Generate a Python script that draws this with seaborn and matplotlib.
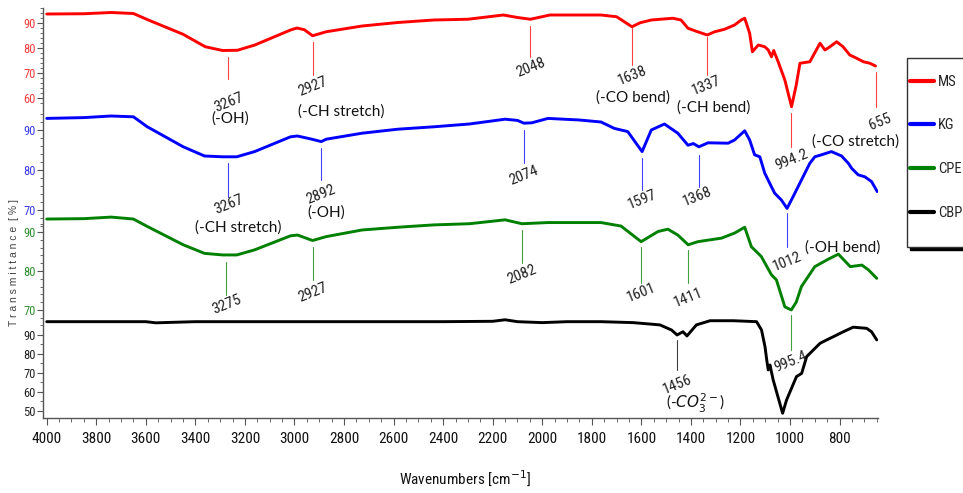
import numpy as np
import pandas as pd
import matplotlib
matplotlib.use("Agg")
import matplotlib.pyplot as plt
import matplotlib.transforms as mtransforms
import matplotlib.font_manager as fm
from matplotlib.patches import Rectangle
from matplotlib.ticker import MultipleLocator, FixedLocator
import seaborn as sns

# ---------------- data (wavenumber cm-1, transmittance %) ----------------
MS_WN = [4000, 3850, 3740, 3650, 3590, 3450, 3360, 3290, 3230, 3160, 3016, 2990, 2960, 2927, 2872,
         2727, 2583, 2438, 2300, 2157, 2100, 2048, 1969, 1850, 1763, 1700, 1638, 1605, 1560, 1473,
         1440, 1412, 1373, 1334, 1304, 1264, 1224, 1197, 1183, 1163, 1152, 1128, 1102, 1088, 1075,
         1066, 1048, 1021, 994, 975, 960, 920, 879, 859, 839, 812, 786, 759, 731, 704, 678, 655]
MS_T = [93.6, 93.7, 94.2, 93.8, 91.2, 85.5, 80.5, 79.0, 79.1, 81.2, 87.2, 88.0, 87.3, 84.9, 86.5,
        88.8, 90.2, 91.2, 91.5, 93.2, 92.2, 91.5, 93.2, 93.2, 93.2, 92.5, 88.5, 90.1, 91.2, 91.9,
        91.2, 87.9, 86.5, 85.2, 86.5, 87.5, 89.2, 91.2, 91.9, 85.9, 78.5, 81.2, 80.5, 79.2, 76.5,
        79.0, 74.5, 67.2, 56.5, 65.2, 73.9, 74.5, 81.9, 79.2, 80.5, 82.5, 80.5, 77.2, 75.9, 74.5, 73.9, 72.8]

KG_WN = [4000, 3850, 3740, 3650, 3594, 3449, 3363, 3290, 3233, 3161, 3016, 2988, 2930, 2892, 2872,
         2727, 2583, 2438, 2294, 2150, 2100, 2074, 2042, 1977, 1850, 1763, 1709, 1655, 1597, 1560,
         1507, 1453, 1412, 1390, 1368, 1331, 1250, 1224, 1183, 1163, 1143, 1122, 1102, 1075, 1062,
         1035, 1012, 988, 954, 920, 900, 873, 833, 792, 765, 751, 725, 698, 671, 648]
KG_T = [92.9, 93.1, 93.5, 93.3, 90.8, 85.8, 83.5, 83.3, 83.3, 84.6, 88.3, 88.5, 87.7, 87.1, 87.7,
        89.2, 90.2, 90.8, 91.5, 92.7, 92.4, 91.7, 91.8, 92.9, 92.5, 92.0, 90.4, 89.6, 84.6, 90.0,
        91.5, 89.2, 86.2, 86.6, 85.8, 86.8, 86.7, 87.5, 89.8, 87.5, 83.8, 83.3, 79.2, 75.8, 74.2,
        72.5, 70.4, 73.3, 77.5, 81.7, 83.3, 83.8, 84.6, 83.5, 81.7, 80.4, 78.8, 78.3, 77.1, 74.6]

CPE_WN = [4000, 3850, 3740, 3650, 3594, 3449, 3363, 3290, 3233, 3161, 3016, 2988, 2927, 2872, 2727,
          2583, 2438, 2294, 2150, 2082, 1977, 1850, 1763, 1682, 1601, 1533, 1493, 1453, 1411, 1372,
          1277, 1224, 1183, 1156, 1116, 1075, 1055, 1021, 995, 975, 954, 900, 846, 805, 757, 710, 684, 650]
CPE_T = [93.3, 93.4, 93.8, 93.3, 91.4, 86.7, 84.5, 84.1, 84.1, 85.4, 89.0, 89.2, 87.8, 88.8, 90.5,
         91.2, 91.8, 92.1, 93.1, 92.1, 92.4, 92.4, 92.4, 91.5, 87.5, 90.1, 90.7, 89.2, 86.7, 87.5,
         88.4, 89.7, 91.2, 86.2, 83.7, 79.0, 77.7, 70.8, 70.0, 72.0, 76.0, 81.1, 83.0, 84.3, 81.1, 81.5, 80.3, 78.1]

CBP_WN = [4000, 3800, 3600, 3560, 3400, 3200, 3000, 2800, 2600, 2400, 2200, 2150, 2100, 2000, 1900,
          1763, 1633, 1525, 1478, 1456, 1432, 1416, 1378, 1323, 1229, 1135, 1115, 1101, 1094, 1088,
          1081, 1068, 1030, 1014, 974, 953, 933, 906, 879, 852, 825, 785, 745, 691, 671, 650]
CBP_T = [97.0, 97.0, 97.0, 96.4, 97.0, 97.0, 97.0, 97.0, 97.0, 97.0, 97.2, 98.0, 97.0, 96.5, 97.0,
         97.0, 96.5, 95.3, 92.6, 90.0, 91.7, 89.5, 95.3, 97.5, 97.5, 97.0, 92.6, 83.8, 76.8, 71.6,
         74.2, 66.3, 48.8, 55.8, 68.1, 69.8, 78.6, 82.1, 85.6, 87.4, 89.1, 91.7, 94.1, 93.5, 91.7, 87.4]

SAMPLES = ["MS", "KG", "CPE", "CBP"]
X_TICKS = [4000, 3800, 3600, 3400, 3200, 3000, 2800, 2600, 2400, 2200, 2000, 1800, 1600, 1400, 1200, 1000, 800]

MS_PEAKS = ["3267", "2927", "2048", "1638", "1337", "994.2", "655"]
KG_PEAKS = ["3267", "2892", "2074", "1597", "1368", "1012"]
CPE_PEAKS = ["3275", "2927", "2082", "1601", "1411", "995.4"]
CBP_PEAKS = ["1456"]

ASSIGN_TEXT = ["(-OH)", "(-CH stretch)", "(-CO bend)", "(-CH bend)", "(-CO stretch)",
               "(-CH stretch)", "(-OH)", "(-OH bend)", r"(-$CO_3^{2-}$)"]

# ---------------- layout (pixels in the 963x493 picture) ----------------
W, H = 963, 493
AX_L, AX_R, AX_T, AX_B = 43, 878, 8, 418
XLIM = (4015, 645)

MS_LINE_PX = [(57, 79), (42, 75), (26, 57), (28, 65), (37, 75), (113, 147), (72, 107)]
MS_LABEL_PY = [103, 87, 68, 76, 86, 160, 122]
MS_LABEL_DX = [0, 0, 0, 0, 0, 0, -5]
KG_LINE_PX = [(163, 197), (148, 180), (130, 163), (158, 190), (155, 187), (213, 247)]
KG_LABEL_PY = [205, 195, 176, 200, 197, 262]
KG_LABEL_DX = [0, 0, 0, 0, 2, 0]
CPE_LINE_PX = [(262, 295), (247, 280), (230, 263), (247, 283), (250, 283), (315, 350)]
CPE_LABEL_PY = [305, 293, 275, 293, 298, 362]
CPE_LABEL_DX = [0, 0, 0, 0, 0, 0]
CBP_LINE_PX = [(340, 370)]
CBP_LABEL_PY = [385]
CBP_LABEL_DX = [0]
ASSIGN_POS = [(230, 119), (341, 112), (633, 98), (714, 108), (856, 142),
              (238, 228), (326, 213), (843, 248), (696, 403)]

sns.set_theme(style="ticks")

# ---- pick a condensed font if one is installed ----
_fonts = fm.fontManager.ttflist
_names = {f.name for f in _fonts}
_dv_cond = any(f.name == 'DejaVu Sans' and 'condensed' in str(f.stretch) for f in _fonts)
if 'Liberation Sans Narrow' in _names:
    NARROW, STRETCH, NS = ['Liberation Sans Narrow', 'DejaVu Sans'], 'normal', 1.0
elif 'Roboto Condensed' in _names:
    NARROW, STRETCH, NS = ['Roboto Condensed', 'DejaVu Sans'], 'normal', 1.0
elif _dv_cond:
    NARROW, STRETCH, NS = ['DejaVu Sans', 'Liberation Sans'], 'condensed', 0.9
else:
    NARROW, STRETCH, NS = ['Liberation Sans', 'DejaVu Sans'], 'normal', 0.88
BODY = ['DejaVu Sans']
for cand in ['Lato', 'Open Sans', 'Noto Sans', 'DejaVu Sans']:
    if cand in _names:
        BODY = [cand, 'DejaVu Sans']
        break

plt.rcParams['font.family'] = NARROW
plt.rcParams['font.stretch'] = STRETCH

fig = plt.figure(figsize=(W / 100, H / 100), dpi=100)
rect = [AX_L / W, 1 - AX_B / H, (AX_R - AX_L) / W, (AX_B - AX_T) / H]

# name, wn, T, line colour, tick colour, ylim, major ticks, minor ticks
specs = [
    ("CBP", CBP_WN, CBP_T, "#000000", "#222222", (46.3, 262.1), [50, 60, 70, 80, 90], np.arange(50, 96, 5)),
    ("CPE", CPE_WN, CPE_T, "#008000", "#2f8f2f", (42.3, 147.4), [70, 80, 90], np.arange(68, 93, 2)),
    ("KG", KG_WN, KG_T, "#0000ff", "#3b3bf0", (18.0, 120.5), [70, 80, 90], np.arange(66, 95, 2)),
    ("MS", MS_WN, MS_T, "#ff0000", "#f03c3c", (-68.0, 96.0), [60, 70, 80, 90], np.arange(58, 97, 2)),
]

axes = {}
handles = {}
base = None
for name, wn, t, col, tcol, ylim, majors, minors in specs:
    if base is None:
        ax = fig.add_axes(rect)
        base = ax
    else:
        ax = fig.add_axes(rect, sharex=base)
        ax.patch.set_visible(False)
    df = pd.DataFrame({"Wavenumber": wn, "Transmittance": t})
    sns.lineplot(data=df, x="Wavenumber", y="Transmittance", ax=ax, color=col,
                 linewidth=2.1, estimator=None, sort=True, legend=False)
    handles[name] = ax.lines[0]
    ax.set_ylim(*ylim)
    ax.set_xlabel("")
    ax.set_ylabel("")
    ax.yaxis.set_major_locator(FixedLocator(majors))
    ax.yaxis.set_minor_locator(FixedLocator(minors))
    ax.tick_params(axis='y', which='major', left=True, length=4, width=0.8, color='#555555',
                   labelsize=9 * NS, labelcolor=tcol, pad=1)
    ax.tick_params(axis='y', which='minor', left=True, length=2, width=0.6, color='#555555')
    for s in ax.spines.values():
        s.set_visible(False)
    if ax is base:
        ax.spines['left'].set_visible(True)
        ax.spines['bottom'].set_visible(True)
        for s in ('left', 'bottom'):
            ax.spines[s].set_color('#555555')
            ax.spines[s].set_linewidth(1.0)
        ax.xaxis.set_major_locator(FixedLocator(X_TICKS))
        ax.xaxis.set_minor_locator(MultipleLocator(50))
        ax.tick_params(axis='x', which='major', bottom=True, length=5, width=0.8, color='#555555',
                       labelsize=11 * NS, labelcolor='#111111', pad=5)
        ax.tick_params(axis='x', which='minor', bottom=True, length=3, width=0.6, color='#555555')
    else:
        ax.tick_params(axis='x', which='both', bottom=False, labelbottom=False)
    axes[name] = ax

top = axes["MS"]
trans = mtransforms.blended_transform_factory(top.transData, fig.transFigure)

def fy(py):
    return 1 - py / H

peak_sets = [
    (MS_PEAKS, MS_LINE_PX, MS_LABEL_PY, MS_LABEL_DX, "#ff0000"),
    (KG_PEAKS, KG_LINE_PX, KG_LABEL_PY, KG_LABEL_DX, "#0000ff"),
    (CPE_PEAKS, CPE_LINE_PX, CPE_LABEL_PY, CPE_LABEL_DX, "#008000"),
    (CBP_PEAKS, CBP_LINE_PX, CBP_LABEL_PY, CBP_LABEL_DX, "#000000"),
]
for labels, lines_px, lab_py, lab_dx, col in peak_sets:
    for lab, (y1, y2), py, dx in zip(labels, lines_px, lab_py, lab_dx):
        w = float(lab)
        top.plot([w, w], [fy(y1), fy(y2)], transform=trans, color=col, lw=0.8, alpha=0.75, zorder=5)
        bbox = None
        if lab == "3275":
            bbox = dict(facecolor='white', edgecolor='none', pad=0.6)
        top.text(w + dx / 0.2478, fy(py), lab, transform=trans, rotation=22, ha='center', va='center',
                 rotation_mode='anchor', fontsize=11 * NS, color='#222222', zorder=6, bbox=bbox)

for txt, (px, py) in zip(ASSIGN_TEXT, ASSIGN_POS):
    fig.text(px / W, fy(py), txt, ha='center', va='center', fontsize=11, color='#111111',
             family=BODY, stretch='normal')

base.set_xlim(*XLIM)

fig.text(14 / W, fy(263), "T r a n s m i t t a n c e  [ % ]", rotation=90, ha='center', va='center',
         fontsize=7.5, color='#444444', family=['Liberation Sans', 'DejaVu Sans'], stretch='normal')
fig.text(465 / W, fy(478), "Wavenumbers [cm$^{-1}$]", ha='center', va='center', fontsize=11 * NS,
         color='#111111')

# legend box with dark drop edge
shadow = Rectangle((910 / W, fy(250)), 80 / W, (250 - 61) / H, transform=fig.transFigure,
                   facecolor='black', edgecolor='black', zorder=3)
box = Rectangle((907 / W, fy(247)), 80 / W, (247 - 58) / H, transform=fig.transFigure,
                facecolor='white', edgecolor='#333333', linewidth=1.0, zorder=3.1)
fig.add_artist(shadow)
fig.add_artist(box)

fs_leg = 10.5 * NS
fs_px = fs_leg * 100 / 72
leg = fig.legend([handles[n] for n in SAMPLES], SAMPLES, loc='upper left',
                 bbox_to_anchor=(910 / W, fy(82 - fs_px / 2)), bbox_transform=fig.transFigure,
                 frameon=False, fontsize=fs_leg, handlelength=24 / fs_px, handletextpad=4 / fs_px,
                 labelspacing=(44.3 - fs_px) / fs_px, borderpad=0, borderaxespad=0)
leg.set_zorder(4)
for lh in leg.get_lines():
    lh.set_linewidth(3)

fig.savefig("out.png", dpi=100)
